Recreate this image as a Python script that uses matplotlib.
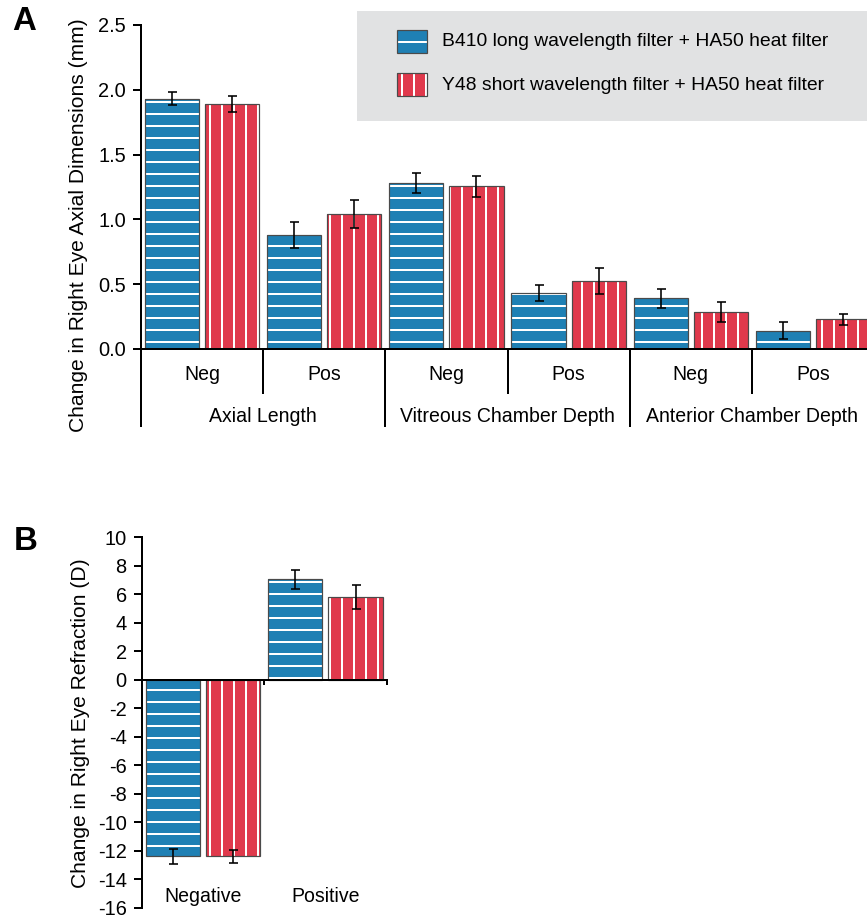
import numpy as np
import matplotlib.pyplot as plt
from matplotlib.patches import Rectangle
from matplotlib.ticker import FormatStrFormatter

plt.rcParams['font.family'] = ['Liberation Sans', 'DejaVu Sans']
plt.rcParams['hatch.linewidth'] = 2.0
plt.rcParams['axes.unicode_minus'] = False

# Panel A data
sublabels = ['Neg', 'Pos', 'Neg', 'Pos', 'Neg', 'Pos']
measures = ['Axial Length', 'Vitreous Chamber Depth', 'Anterior Chamber Depth']
b410_axial = [1.93, 0.88, 1.28, 0.43, 0.39, 0.14]
b410_axial_err = [0.05, 0.10, 0.08, 0.06, 0.07, 0.065]
y48_axial = [1.89, 1.04, 1.255, 0.525, 0.285, 0.23]
y48_axial_err = [0.063, 0.11, 0.08, 0.10, 0.08, 0.043]

# Panel B data
refr_labels = ['Negative', 'Positive']
b410_refr = [-12.4, 7.05]
b410_refr_err = [0.55, 0.65]
y48_refr = [-12.4, 5.8]
y48_refr_err = [0.47, 0.82]

series_names = ['B410 long wavelength filter + HA50 heat filter',
                'Y48 short wavelength filter + HA50 heat filter']

BLUE = '#1f80b4'
RED = '#e0394c'
EDGE = '#4a4a4a'
W, H = 867, 920
bar_w = 0.443
offs = [-0.246, 0.246]


def draw_bars(ax, x, vals, errs, color, hatch):
    ax.bar(x, vals, bar_w, color=color, edgecolor='white', hatch=hatch, linewidth=0)
    ax.bar(x, vals, bar_w, fill=False, edgecolor=EDGE, linewidth=1.2)
    ax.errorbar(x, vals, yerr=errs, fmt='none', ecolor='black',
                elinewidth=1.6, capsize=4.5, capthick=1.6)


fig = plt.figure(figsize=(W / 72, H / 72), dpi=72)

# ---------- Panel A ----------
axA = fig.add_axes([141 / W, 1 - 349 / H, 733 / W, 324 / H])
xa = np.arange(len(sublabels)) + 0.5
draw_bars(axA, xa + offs[0], b410_axial, b410_axial_err, BLUE, '-')
draw_bars(axA, xa + offs[1], y48_axial, y48_axial_err, RED, '|')
axA.set_xlim(0, 6)
axA.set_ylim(0, 2.5)
axA.set_yticks(np.arange(0, 2.51, 0.5))
axA.yaxis.set_major_formatter(FormatStrFormatter('%.1f'))
axA.set_xticks([])
for s in ['top', 'right']:
    axA.spines[s].set_visible(False)
for s in ['left', 'bottom']:
    axA.spines[s].set_linewidth(2)
axA.tick_params(axis='y', length=8, width=2, labelsize=20, pad=7)
axA.set_ylabel('Change in Right Eye Axial Dimensions (mm)', fontsize=21)
axA.yaxis.set_label_coords(-0.072, 0.383)

trA = axA.get_xaxis_transform()
short_y = -(393 - 349) / 324
long_y = -(426 - 349) / 324
axA.plot([0, 0], [0, long_y], color='black', lw=2, transform=trA, clip_on=False)
for k in range(1, 6):
    yend = long_y if k % 2 == 0 else short_y
    axA.plot([k, k], [0, yend], color='black', lw=2, transform=trA, clip_on=False)
for i, lab in enumerate(sublabels):
    axA.text(i + 0.5, -(374 - 349) / 324, lab, transform=trA,
             ha='center', va='center', fontsize=19.5)
for j, lab in enumerate(measures):
    axA.text(2 * j + 1, -(417 - 349) / 324, lab, transform=trA,
             ha='center', va='center', fontsize=19.5)

# ---------- Panel B ----------
axB = fig.add_axes([141.7 / W, 1 - 907.7 / H, 245 / W, 370.4 / H])
xb = np.arange(len(refr_labels)) + 0.5
draw_bars(axB, xb + offs[0], b410_refr, b410_refr_err, BLUE, '-')
draw_bars(axB, xb + offs[1], y48_refr, y48_refr_err, RED, '|')
axB.set_xlim(0, 2)
axB.set_ylim(-16, 10)
axB.set_yticks(np.arange(-16, 11, 2))
axB.set_xticks([1, 2])
axB.set_xticklabels([])
axB.spines['bottom'].set_position(('data', 0))
for s in ['top', 'right']:
    axB.spines[s].set_visible(False)
for s in ['left', 'bottom']:
    axB.spines[s].set_linewidth(2)
axB.tick_params(axis='y', length=8, width=2, labelsize=20, pad=7)
axB.tick_params(axis='x', length=5, width=2, direction='out')
axB.set_ylabel('Change in Right Eye Refraction (D)', fontsize=21)
axB.yaxis.set_label_coords(-0.213, 0.499)
for i, lab in enumerate(refr_labels):
    axB.text(i + 0.5, -15.2, lab, ha='center', va='center', fontsize=19.5)

# ---------- Legend ----------
fig.add_artist(Rectangle((357 / W, 1 - 121 / H), (W - 357) / W, 110 / H,
                         transform=fig.transFigure, facecolor='#e1e2e3',
                         edgecolor='none'))
for k, (name, col, hat) in enumerate(zip(series_names, [BLUE, RED], ['-', '|'])):
    top = 30 + k * 43
    fig.add_artist(Rectangle((397 / W, 1 - (top + 23) / H), 30 / W, 23 / H,
                             transform=fig.transFigure, facecolor=col,
                             edgecolor='white', hatch=hat, linewidth=0))
    fig.add_artist(Rectangle((397 / W, 1 - (top + 23) / H), 30 / W, 23 / H,
                             transform=fig.transFigure, fill=False,
                             edgecolor=EDGE, linewidth=1.2))
    fig.text(442 / W, 1 - (top + 12) / H, name, ha='left', va='center', fontsize=19.3)

# panel letters
fig.text(12 / W, 1 - 6 / H, 'A', fontsize=33, fontweight='bold', va='top', ha='left')
fig.text(14 / W, 1 - 526 / H, 'B', fontsize=33, fontweight='bold', va='top', ha='left')

fig.savefig('out.png', dpi=72)
